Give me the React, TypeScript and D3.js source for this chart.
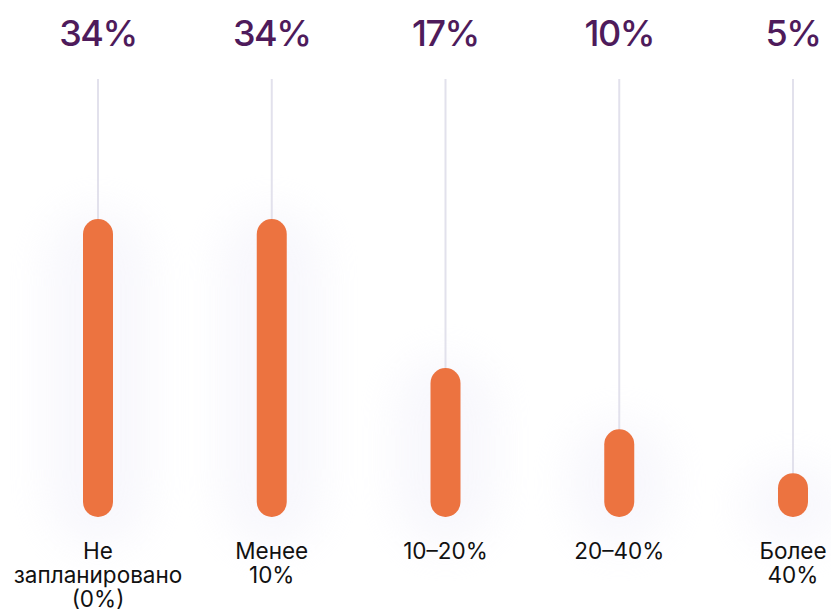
import React from "react";
import * as d3 from "d3";

const categories = ["Не запланировано (0%)", "Менее 10%", "10–20%", "20–40%", "Более 40%"];
const labelLines = [["Не", "запланировано", "(0%)"], ["Менее", "10%"], ["10–20%"], ["20–40%"], ["Более", "40%"]];
const values = [34, 34, 17, 10, 5];
const valueLabels = ["34%", "34%", "17%", "10%", "5%"];

const W = 831;
const H = 610;
const ORANGE = "#EC7340";
const PURPLE = "#4E1B5B";

export default function App() {
  const x = d3.scalePoint<string>().domain(categories).range([98, 793]);
  const y = d3.scaleLinear().domain([0, 34]).range([517, 219]);
  const barW = 30;
  return (
    <svg width={W} height={H} style={{ position: "absolute", left: 0, top: 0 }}>
      <defs>
        <filter id="glow" x="-200%" y="-50%" width="500%" height="200%">
          <feGaussianBlur stdDeviation="22" />
        </filter>
      </defs>
      <rect width={W} height={H} fill="#fff" />
      {categories.map((c, i) => {
        const cx = x(c)!;
        const top = y(values[i]);
        const bottom = y(0);
        return (
          <g key={c}>
            <rect x={cx - 50} y={top - 10} width={100} height={bottom - top + 40} rx={50} fill="#efeef9" opacity={0.45} filter="url(#glow)" />
            <line x1={cx} x2={cx} y1={79} y2={bottom} stroke="#e2e1ec" strokeWidth={2} />
            <rect x={cx - barW / 2} y={top} width={barW} height={bottom - top} rx={barW / 2} fill={ORANGE} />
            <text x={cx} y={46} textAnchor="middle" fontFamily="Inter" fontWeight={500} fontSize={36} letterSpacing={-1.5} fill={PURPLE}>
              {valueLabels[i]}
            </text>
            <text x={cx} y={559} textAnchor="middle" fontFamily="Inter" fontSize={22.5} fill="#111">
              {labelLines[i].map((l, j) => (
                <tspan key={j} x={cx} dy={j === 0 ? 0 : 24}>{l}</tspan>
              ))}
            </text>
          </g>
        );
      })}
    </svg>
  );
}
